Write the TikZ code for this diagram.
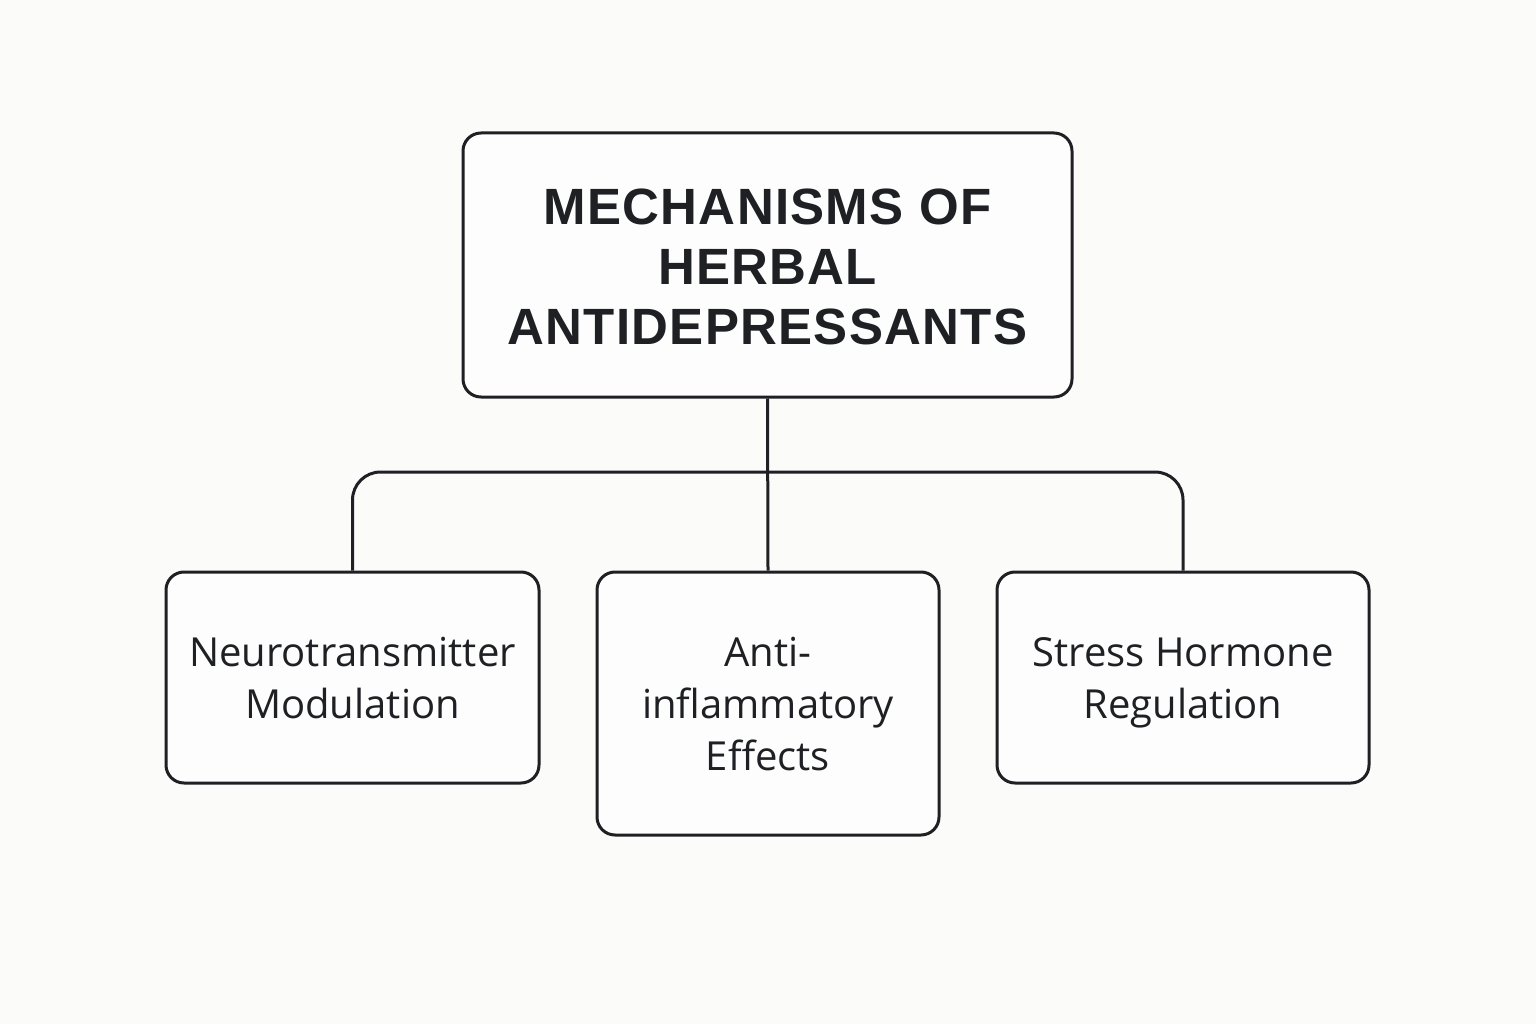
\documentclass[tikz,border=0pt]{standalone}
\usepackage{fontspec}
\setmainfont{Liberation Sans}
\newfontfamily\bodyfont{Open Sans}
\definecolor{bg}{HTML}{FBFBF9}
\definecolor{ink}{HTML}{1E2023}
\newcommand\bstrut{\rule[-10.6pt]{0pt}{52pt}}
\newcommand\tstrut{\rule[-11pt]{0pt}{60pt}}
\begin{document}
\begin{tikzpicture}[x=1pt,y=-1pt,
  box/.style={draw=ink, line width=3pt, rounded corners=18pt, fill=white!60!bg, text=ink, align=center, inner sep=0pt},
  body/.style={font=\bodyfont\fontsize{40}{52}\selectfont},
  conn/.style={draw=ink, line width=3pt}]
\fill[bg] (0,0) rectangle (1536,1024);
\useasboundingbox (0,0) rectangle (1536,1024);
\node[box, minimum width=609pt, minimum height=264pt, font=\fontsize{51}{60}\selectfont\bfseries] (top) at (767.5,265) {\addfontfeature{LetterSpace=2.5}MECHANISMS OF\tstrut\\\addfontfeature{LetterSpace=2.5}HERBAL\tstrut\\\addfontfeature{LetterSpace=2.5}ANTIDEPRESSANTS\tstrut};
\node[box, body, minimum width=373pt, minimum height=211pt] (left) at (352.5,677.5) {Neurotransmitter\bstrut\\Modulation\bstrut};
\node[box, body, minimum width=342pt, minimum height=263pt] (mid) at (768,703.5) {Anti-\bstrut\\inflammatory\bstrut\\Effects\bstrut};
\node[box, body, minimum width=372pt, minimum height=211pt] (right) at (1183,677.5) {Stress Hormone\bstrut\\Regulation\bstrut};
\coordinate (bus) at (768,472);
\draw[conn] (top.south) -- (mid.north);
\draw[conn, rounded corners=28pt] (left.north) |- (bus) -| (right.north);
\end{tikzpicture}
\end{document}
